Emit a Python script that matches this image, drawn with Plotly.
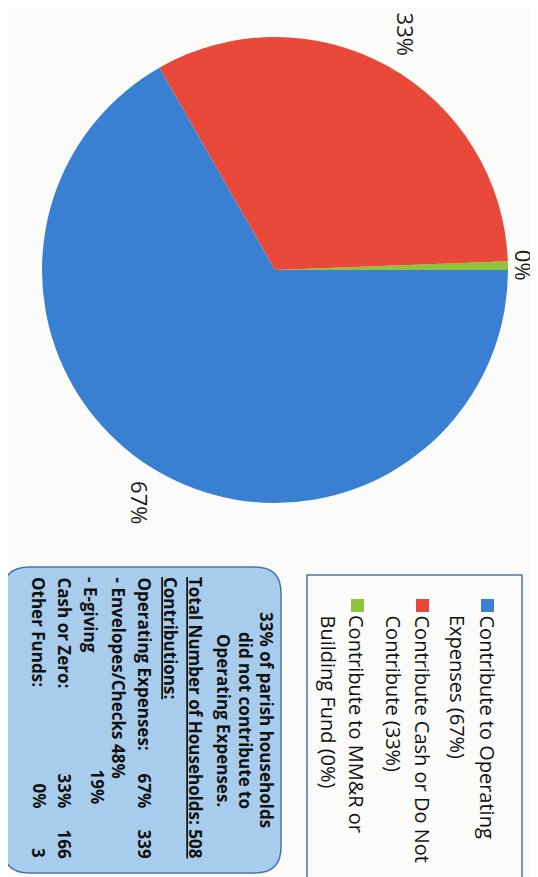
import math
import plotly.graph_objects as go

W, H = 538, 877
OFF = 8  # default page margin of the browser

# ---- data ----
categories = ["Contribute to MM&R or Building Fund",
              "Contribute Cash or Do Not Contribute",
              "Contribute to Operating Expenses"]
households = [3, 166, 339]
pct_labels = ["0%", "33%", "67%"]
slice_colors = ["#8cc43c", "#e8493a", "#3a80d2"]
legend_lines = [
    ["Contribute to Operating", "Expenses (67%)"],
    ["Contribute Cash or Do Not", "Contribute (33%)"],
    ["Contribute to MM&R or", "Building Fund (0%)"],
]
legend_colors = ["#3a80d2", "#e8493a", "#8cc43c"]
box_center_lines = ["33% of parish households", "did not contribute to",
                    "Operating Expenses."]
box_left_lines = ["Total Number of Households: 508", "Contributions:",
                  "Operating Expenses:", "- Envelopes/Checks 48%", "- E-giving",
                  "Cash or Zero:", "Other Funds:"]
box_pcts = ["67%", "33%", "0%"]
box_counts = ["339", "166", "3"]
egiving_pct = "19%"

total = sum(households)


def px(x):
    return (x - OFF) / W


def py(y):
    return 1 - (y - OFF) / H


# pie geometry (pixels on the page)
cx, cy, r = 275, 270, 233
first_frac = households[0] / total

fig = go.Figure()
fig.add_trace(go.Pie(
    labels=categories, values=households, sort=False,
    direction="counterclockwise", rotation=90 - first_frac * 360,
    marker=dict(colors=slice_colors, line=dict(width=0)),
    textinfo="none", hoverinfo="label+value+percent",
    showlegend=False,
    domain=dict(x=[px(cx - r), px(cx + r)], y=[py(cy + r), py(cy - r)]),
))

ann = []
shapes = []

# percentage labels at the middle angle of each slice, outside the pie
cum = 0
LF = 22
for v, lab in zip(households, pct_labels):
    mid = (cum + v / 2) / total * 2 * math.pi
    cum += v
    c, s = math.cos(mid), math.sin(mid)
    d = r + 4 + abs(c) * 11 + abs(s) * 31
    ann.append(dict(x=px(cx + d * c), y=py(cy - d * s), xref="paper", yref="paper",
                    text=lab, showarrow=False, textangle=90,
                    xanchor="center", yanchor="middle",
                    font=dict(family="Open Sans", size=LF, color="#1a1a1a")))

# legend frame and entries
shapes.append(dict(type="rect", xref="paper", yref="paper",
                   x0=px(307), x1=px(522), y0=py(890), y1=py(575),
                   line=dict(color="#4f74aa", width=1.5), fillcolor="rgba(0,0,0,0)"))
leg_x = [487, 422, 357]
lf = dict(family="Open Sans", size=20, color="#111")
for (l1, l2), col, lx in zip(legend_lines, legend_colors, leg_x):
    shapes.append(dict(type="rect", xref="paper", yref="paper",
                       x0=px(lx - 6), x1=px(lx + 7), y0=py(612), y1=py(599),
                       line=dict(width=0), fillcolor=col))
    ann.append(dict(x=px(lx), y=py(613), xref="paper", yref="paper",
                    text=l1, showarrow=False, textangle=90,
                    xanchor="center", yanchor="top", font=lf))
    ann.append(dict(x=px(lx - 29), y=py(613), xref="paper", yref="paper",
                    text=l2, showarrow=False, textangle=90,
                    xanchor="center", yanchor="top", font=lf))

# info box (rounded rectangle)
x0b, x1b, y0b, y1b, rr = 3, 281, 567, 873, 26
shapes.append(dict(type="path", xref="paper", yref="paper",
                   path=" ".join([
                       f"M {px(x0b + rr)} {py(y0b)}", f"L {px(x1b - rr)} {py(y0b)}",
                       f"Q {px(x1b)} {py(y0b)} {px(x1b)} {py(y0b + rr)}",
                       f"L {px(x1b)} {py(y1b - rr)}",
                       f"Q {px(x1b)} {py(y1b)} {px(x1b - rr)} {py(y1b)}",
                       f"L {px(x0b + rr)} {py(y1b)}",
                       f"Q {px(x0b)} {py(y1b)} {px(x0b)} {py(y1b - rr)}",
                       f"L {px(x0b)} {py(y0b + rr)}",
                       f"Q {px(x0b)} {py(y0b)} {px(x0b + rr)} {py(y0b)} Z"]),
                   line=dict(color="#4a72b0", width=1.5), fillcolor="#a8cdec"))

bf = dict(family="Open Sans", size=17, color="#111", weight="bold")
for t, lx in zip(box_center_lines, [267, 246, 224]):
    ann.append(dict(x=px(lx), y=py(720), xref="paper", yref="paper",
                    text=t, showarrow=False, textangle=90,
                    xanchor="center", yanchor="middle", font=bf))
left_x = [196, 171, 144, 118, 91, 64, 39]
for i, (t, lx) in enumerate(zip(box_left_lines, left_x)):
    f = dict(bf)
    if i < 2:
        f["lineposition"] = "under"
    ann.append(dict(x=px(lx), y=py(575), xref="paper", yref="paper",
                    text=t, showarrow=False, textangle=90,
                    xanchor="center", yanchor="top", font=f))
# right-hand figures
for t, lx in zip(box_pcts, [left_x[2], left_x[5], left_x[6]]):
    ann.append(dict(x=px(lx), y=py(810), xref="paper", yref="paper",
                    text=t, showarrow=False, textangle=90,
                    xanchor="center", yanchor="bottom", font=bf))
for t, lx in zip(box_counts, [left_x[2], left_x[5], left_x[6]]):
    ann.append(dict(x=px(lx), y=py(860), xref="paper", yref="paper",
                    text=t, showarrow=False, textangle=90,
                    xanchor="center", yanchor="bottom", font=bf))
ann.append(dict(x=px(left_x[4] + 6), y=py(806), xref="paper", yref="paper",
                text=egiving_pct, showarrow=False, textangle=90,
                xanchor="center", yanchor="bottom", font=bf))

fig.update_layout(width=W, height=H, margin=dict(l=0, r=0, t=0, b=0),
                  paper_bgcolor="#fbfbf9", plot_bgcolor="#fbfbf9",
                  annotations=ann, shapes=shapes)
fig.write_html("out.html")
